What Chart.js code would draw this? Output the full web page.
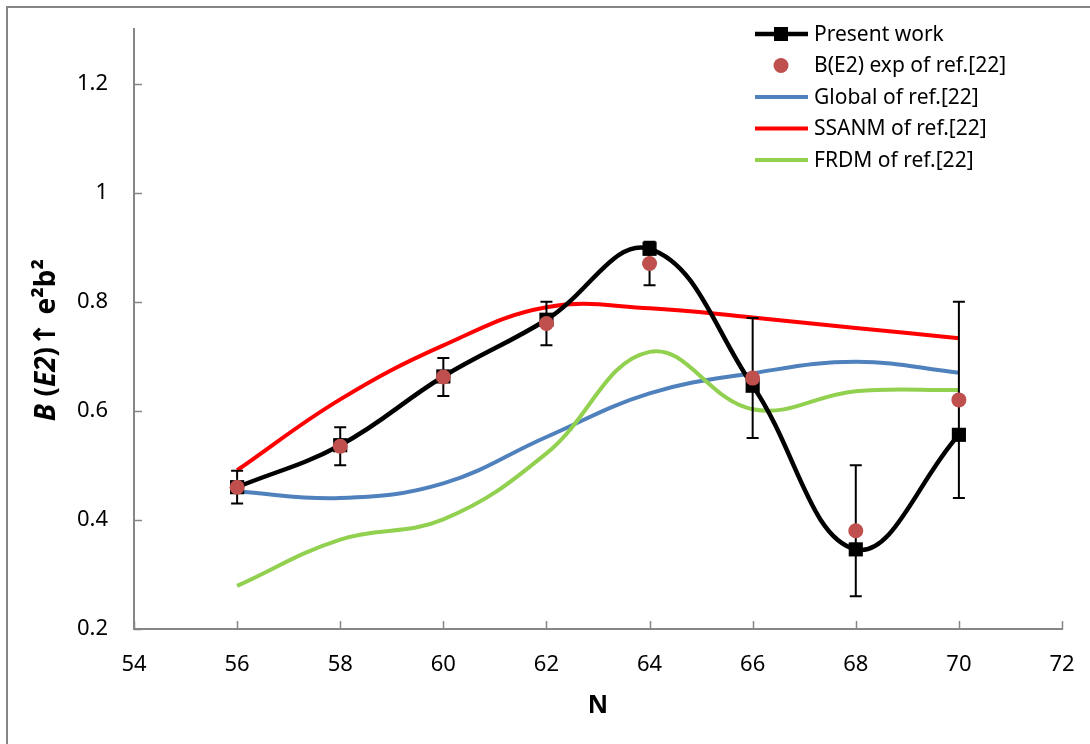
<!DOCTYPE html>
<html>
<head>
<meta charset="utf-8">
<script src="https://cdn.jsdelivr.net/npm/chart.js@4"></script>
<style>
  html, body { margin: 0; padding: 0; background: #fff; overflow: hidden; }
  #wrap { width: 1090px; height: 744px; position: relative; }
</style>
</head>
<body>
<div id="wrap"><canvas id="chart" width="1090" height="744"></canvas></div>
<script>
// N values and B(E2) curves
const nValues = [56, 58, 60, 62, 64, 66, 68, 70];
const presentWork = [0.46, 0.537, 0.663, 0.767, 0.897, 0.646, 0.346, 0.556];
const expB = [0.46, 0.535, 0.662, 0.76, 0.87, 0.66, 0.38, 0.62];
const expErr = [0.03, 0.035, 0.035, 0.04, 0.04, 0.11, 0.12, 0.18];
const globalRef = [0.452, 0.44, 0.467, 0.552, 0.632, 0.669, 0.69, 0.67];
const ssanmRef = [0.491, 0.621, 0.72, 0.79, 0.788, 0.771, 0.752, 0.733];
const frdmRef = [0.279, 0.364, 0.401, 0.522, 0.708, 0.603, 0.636, 0.638];

const xTicks = [54, 56, 58, 60, 62, 64, 66, 68, 70, 72];
const yTicks = [0.2, 0.4, 0.6, 0.8, 1, 1.2];

const seriesNames = ['Present work', 'B(E2) exp of ref.[22]', 'Global of ref.[22]', 'SSANM of ref.[22]', 'FRDM of ref.[22]'];

const AXIS_GREY = '#868686';
const FONT = "'Noto Sans', sans-serif";

const toPoints = ys => nValues.map((n, i) => ({ x: n, y: ys[i] }));

// error bars go under the exp circles
const errorBars = {
    id: 'errorBars',
    beforeDatasetDraw(chart, args) {
        const ds = chart.data.datasets[args.index];
        if (!ds.errors) return;
        const { ctx, scales: { x, y } } = chart;
        ctx.save();
        ctx.strokeStyle = '#000';
        ctx.lineWidth = 2;
        ds.data.forEach((p, i) => {
            const px = x.getPixelForValue(p.x);
            const top = y.getPixelForValue(p.y + ds.errors[i]);
            const bot = y.getPixelForValue(p.y - ds.errors[i]);
            ctx.beginPath();
            ctx.moveTo(px, top); ctx.lineTo(px, bot);
            ctx.moveTo(px - 6, top); ctx.lineTo(px + 6, top);
            ctx.moveTo(px - 6, bot); ctx.lineTo(px + 6, bot);
            ctx.stroke();
        });
        ctx.restore();
    }
};

// frame, inner tick marks, axis titles, legend
const decorations = {
    id: 'decorations',
    beforeDraw(chart) {
        const ctx = chart.ctx;
        ctx.save();
        ctx.fillStyle = '#fff';
        ctx.fillRect(0, 0, chart.width, chart.height);
        ctx.strokeStyle = AXIS_GREY;
        ctx.lineWidth = 2;
        ctx.beginPath();
        ctx.moveTo(7, chart.height + 2);
        ctx.lineTo(7, 7);
        ctx.lineTo(chart.width + 2, 7);
        ctx.stroke();
        ctx.restore();
    },
    afterDraw(chart) {
        const { ctx, scales: { x, y } } = chart;
        const area = chart.chartArea;
        ctx.save();

        // inner ticks
        ctx.strokeStyle = AXIS_GREY;
        ctx.lineWidth = 1.5;
        ctx.beginPath();
        yTicks.forEach(v => {
            const py = Math.round(y.getPixelForValue(v)) + 0.5;
            ctx.moveTo(area.left, py); ctx.lineTo(area.left + 8, py);
        });
        xTicks.forEach(v => {
            const px = Math.round(x.getPixelForValue(v)) + 0.5;
            ctx.moveTo(px, area.bottom); ctx.lineTo(px, area.bottom - 8);
        });
        ctx.stroke();

        // x title
        ctx.fillStyle = '#000';
        ctx.font = 'bold 25px ' + FONT;
        ctx.textAlign = 'center';
        ctx.textBaseline = 'middle';
        ctx.fillText('N', (area.left + area.right) / 2, 706);

        // y title with mixed italics
        const pieces = [
            ['B', 'italic bold 28px ' + FONT], [' (', 'bold 28px ' + FONT], ['E2', 'italic bold 28px ' + FONT],
            [')', 'bold 28px ' + FONT], ['\u2191', 'bold 30px "DejaVu Sans"'], [' e\u00b2b\u00b2', 'bold 28px ' + FONT]
        ];
        let total = 0;
        pieces.forEach(p => { ctx.font = p[1]; total += ctx.measureText(p[0]).width; });
        ctx.translate(47, 340);
        ctx.rotate(-Math.PI / 2);
        ctx.textAlign = 'left';
        let cx = -total / 2;
        pieces.forEach(p => {
            ctx.font = p[1];
            ctx.fillText(p[0], cx, 0);
            cx += ctx.measureText(p[0]).width;
        });
        ctx.setTransform(1, 0, 0, 1, 0, 0);

        // legend
        const lx0 = 755, lx1 = 808, tx = 814, rowY = 34, rowGap = 31.5;
        const styles = chart.data.datasets;
        ctx.font = '21px ' + FONT;
        ctx.textBaseline = 'middle';
        seriesNames.forEach((name, i) => {
            const ds = styles.find(d => d.label === name);
            const yy = rowY + i * rowGap;
            if (ds.showLine !== false) {
                ctx.strokeStyle = ds.borderColor;
                ctx.lineWidth = ds.borderWidth;
                ctx.beginPath();
                ctx.moveTo(lx0, yy); ctx.lineTo(lx1, yy);
                ctx.stroke();
            }
            if (ds.pointStyle === 'rect' && ds.pointRadius > 0) {
                ctx.fillStyle = ds.pointBackgroundColor;
                ctx.fillRect(781 - 7, yy - 7, 14, 14);
            } else if (ds.pointRadius > 0) {
                ctx.fillStyle = ds.pointBackgroundColor;
                ctx.beginPath();
                ctx.arc(781, yy, 7.5, 0, Math.PI * 2);
                ctx.fill();
            }
            ctx.fillStyle = '#000';
            ctx.fillText(name, tx, yy + 1);
        });
        ctx.restore();
    }
};

const lineSeries = (label, ys, color, order) => ({
    label,
    data: toPoints(ys),
    borderColor: color,
    borderWidth: 4,
    pointRadius: 0,
    tension: 0.4,
    fill: false,
    order
});

new Chart(document.getElementById('chart'), {
    type: 'line',
    data: {
        datasets: [
            {
                label: seriesNames[0],
                data: toPoints(presentWork),
                borderColor: '#000',
                borderWidth: 4.5,
                pointStyle: 'rect',
                pointRadius: 10,
                pointBackgroundColor: '#000',
                pointBorderWidth: 0,
                tension: 0.4,
                fill: false,
                order: 1
            },
            {
                label: seriesNames[1],
                data: toPoints(expB),
                errors: expErr,
                showLine: false,
                borderColor: '#c0504d',
                pointStyle: 'circle',
                pointRadius: 7.5,
                pointBackgroundColor: '#c0504d',
                pointBorderWidth: 0,
                order: 0
            },
            lineSeries(seriesNames[2], globalRef, '#4f81bd', 4),
            lineSeries(seriesNames[3], ssanmRef, '#ff0000', 3),
            lineSeries(seriesNames[4], frdmRef, '#92d050', 2)
        ]
    },
    options: {
        responsive: false,
        animation: false,
        layout: { padding: { left: 0, top: 29, right: 28, bottom: 0 } },
        plugins: { legend: { display: false }, tooltip: { enabled: false } },
        scales: {
            x: {
                type: 'linear',
                min: 54,
                max: 72,
                ticks: { stepSize: 2, padding: 23, color: '#000', font: { family: FONT, size: 22 } },
                grid: { display: true, drawOnChartArea: false, drawTicks: false },
                border: { color: AXIS_GREY, width: 2 },
                afterFit: s => { s.height = 115; s.paddingLeft = 0; s.paddingRight = 0; }
            },
            y: {
                type: 'linear',
                min: 0.2,
                max: 1.3,
                ticks: {
                    stepSize: 0.2,
                    padding: 26,
                    color: '#000',
                    font: { family: FONT, size: 22 },
                    callback: v => String(parseFloat(Number(v).toFixed(2)))
                },
                afterBuildTicks: s => { s.ticks = s.ticks.filter(t => t.value <= 1.2001); },
                grid: { display: true, drawOnChartArea: false, drawTicks: false },
                border: { color: AXIS_GREY, width: 2 },
                afterFit: s => { s.width = 134; s.paddingTop = 0; s.paddingBottom = 0; }
            }
        }
    },
    plugins: [errorBars, decorations]
});
</script>
</body>
</html>
